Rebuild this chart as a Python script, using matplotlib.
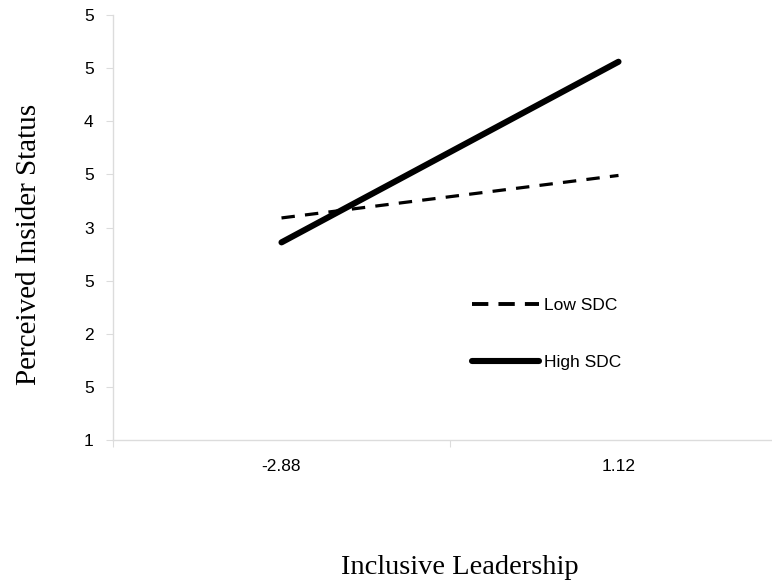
import matplotlib
matplotlib.use('Agg')
import matplotlib.pyplot as plt
from matplotlib.lines import Line2D

# data
categories = ['-2.88', '1.12']
low_sdc = [3.09, 3.49]
high_sdc = [2.86, 4.56]
ytick_vals = [1, 1.5, 2, 2.5, 3, 3.5, 4, 4.5, 5]
ytick_labels = ['1', '5', '2', '5', '3', '5', '4', '5', '5']


def main():
    fig = plt.figure(figsize=(7.72, 5.84), dpi=100)
    # axes runs past the right edge, like the cropped original
    ax = fig.add_axes([113 / 772, 144 / 584, 674 / 772, 425 / 584])

    xs = [0.5, 1.5]
    ax.plot(xs, low_sdc, color='black', lw=2.3, dashes=(4.2, 3.2))
    ax.plot(xs, high_sdc, color='black', lw=4.4, solid_capstyle='round')

    ax.set_xlim(0, 2)
    ax.set_ylim(1, 5)
    ax.set_xticks([0, 1, 2])
    ax.set_xticklabels([])
    ax.set_xticks(xs, minor=True)
    ax.set_xticklabels(categories, minor=True)
    ax.tick_params(axis='x', which='minor', length=0, pad=14)
    ax.tick_params(axis='x', which='major', length=5, color='#dcdcdc')
    ax.set_yticks(ytick_vals)
    ax.set_yticklabels(ytick_labels)
    ax.tick_params(axis='y', length=5, color='#dcdcdc', pad=9)
    for lab in ax.get_xticklabels(minor=True) + ax.get_yticklabels():
        lab.set_fontfamily('Liberation Sans')
        lab.set_fontsize(12.5)

    for s in ['top', 'right']:
        ax.spines[s].set_visible(False)
    for s in ['left', 'bottom']:
        ax.spines[s].set_color('#dcdcdc')
        ax.spines[s].set_linewidth(1.0)

    fig.text(460 / 772, 1 - 567 / 584, 'Inclusive Leadership', ha='center',
             va='center', family='Liberation Serif', fontsize=20.5)
    fig.text(29 / 772, 1 - 244 / 584, 'Perceived Insider Status', ha='center',
             va='center', rotation=90, family='Liberation Serif', fontsize=21)

    handles = [Line2D([], [], color='black', lw=2.8, dashes=(4.2, 2.6)),
               Line2D([], [], color='black', lw=4.4, solid_capstyle='round')]
    ax.legend(handles, ['Low SDC', 'High SDC'], loc='upper left',
              bbox_to_anchor=(456 / 772, 1 - 282 / 584),
              bbox_transform=fig.transFigure, frameon=False,
              handlelength=3.9, handletextpad=0.25, labelspacing=2.45,
              prop={'family': 'Liberation Sans', 'size': 12.5})

    plt.savefig('out.png', dpi=100)


if __name__ == '__main__':
    main()
